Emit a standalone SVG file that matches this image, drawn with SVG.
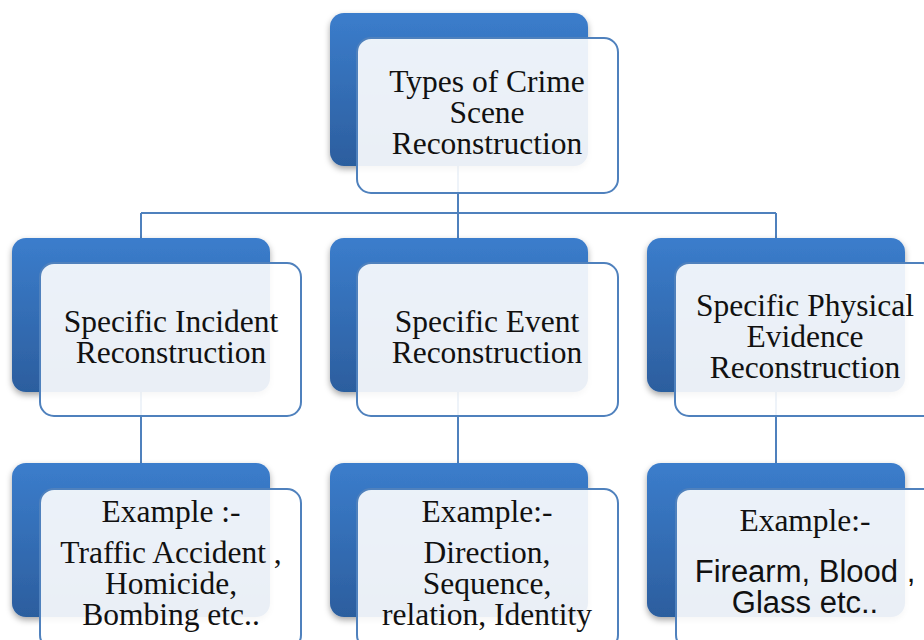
<svg xmlns="http://www.w3.org/2000/svg" width="924" height="640" viewBox="0 0 924 640">
<defs>
<linearGradient id="blueGrad" x1="0" y1="0" x2="0" y2="1">
<stop offset="0" stop-color="#3b7dcc"/>
<stop offset="1" stop-color="#2c5e9e"/>
</linearGradient>
<filter id="shadow" x="-10%" y="-10%" width="125%" height="130%">
<feDropShadow dx="0" dy="3" stdDeviation="3" flood-color="#000" flood-opacity="0.35"/>
</filter>
<style>
.back{fill:url(#blueGrad);filter:url(#shadow);}
.front{fill:#ffffff;fill-opacity:0.9;stroke:#4f81bd;stroke-width:2;}
.conn{fill:none;stroke:#4f81bd;stroke-width:2;}
.t{font-family:"Liberation Serif","Times New Roman",serif;font-size:31.5px;fill:#111;text-anchor:middle;}
.s{font-family:"Liberation Sans",Arial,sans-serif;font-size:31px;fill:#111;text-anchor:middle;}
</style>
</defs>
<g id="connectors">
<path class="conn" d="M458 166 V213 M141 213 H776 M141 213 V240 M458 213 V240 M776 213 V240"/>
<path class="conn" d="M141 392 V465 M458 392 V465 M776 392 V465"/>
</g>
<g id="root">
<rect class="back" x="330" y="13" width="258" height="153" rx="14"/>
<rect class="front" x="357" y="38" width="261" height="155" rx="14"/>
<text class="t" x="487" y="92">Types of Crime</text>
<text class="t" x="487" y="123">Scene</text>
<text class="t" x="487" y="154">Reconstruction</text>
</g>
<g id="incident">
<rect class="back" x="12" y="238" width="258" height="154" rx="14"/>
<rect class="front" x="40" y="263" width="261" height="153" rx="14"/>
<text class="t" x="171" y="332">Specific Incident</text>
<text class="t" x="171" y="363">Reconstruction</text>
</g>
<g id="event">
<rect class="back" x="330" y="238" width="258" height="154" rx="14"/>
<rect class="front" x="357" y="263" width="261" height="153" rx="14"/>
<text class="t" x="487" y="332">Specific Event</text>
<text class="t" x="487" y="363">Reconstruction</text>
</g>
<g id="physical">
<rect class="back" x="647" y="238" width="258" height="154" rx="14"/>
<rect class="front" x="675" y="263" width="261" height="153" rx="14"/>
<text class="t" x="805" y="316">Specific Physical</text>
<text class="t" x="805" y="347">Evidence</text>
<text class="t" x="805" y="378">Reconstruction</text>
</g>
<g id="ex-incident">
<rect class="back" x="12" y="463" width="258" height="154" rx="14"/>
<rect class="front" x="40" y="489" width="261" height="160" rx="14"/>
<text class="t" x="171" y="522">Example :-</text>
<text class="t" x="171" y="563">Traffic Accident ,</text>
<text class="t" x="171" y="594">Homicide,</text>
<text class="t" x="171" y="625">Bombing etc..</text>
</g>
<g id="ex-event">
<rect class="back" x="330" y="463" width="258" height="154" rx="14"/>
<rect class="front" x="357" y="489" width="261" height="160" rx="14"/>
<text class="t" x="487" y="522">Example:-</text>
<text class="t" x="487" y="563">Direction,</text>
<text class="t" x="487" y="594">Sequence,</text>
<text class="t" x="487" y="625">relation, Identity</text>
</g>
<g id="ex-physical">
<rect class="back" x="647" y="463" width="258" height="154" rx="14"/>
<rect class="front" x="676" y="489" width="261" height="160" rx="14"/>
<text class="t" x="805" y="531">Example:-</text>
<text class="s" x="805" y="582">Firearm, Blood ,</text>
<text class="s" x="805" y="613">Glass etc..</text>
</g>
</svg>
